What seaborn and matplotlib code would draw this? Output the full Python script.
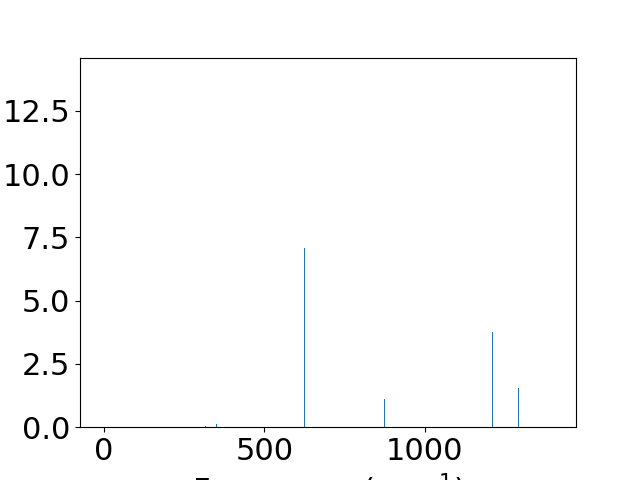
import numpy as np
import pandas as pd
import matplotlib
matplotlib.use("Agg")
import matplotlib.pyplot as plt
import seaborn as sns

frequencies = [316.0, 350.0, 625.4, 875.0, 1212.0, 1293.0]
intensities = [0.04, 0.12, 7.07, 1.11, 3.76, 1.54]

df = pd.DataFrame({"freq": frequencies, "inten": intensities})

plt.rcParams["font.size"] = 22
fig, ax = plt.subplots(figsize=(6.4, 4.8), dpi=100)

min_gap = np.min(np.diff(sorted(frequencies)))
bar_w_units = 4.0
sns.barplot(data=df, x="freq", y="inten", native_scale=True,
            width=bar_w_units / min_gap, color="#1f77b4", saturation=1,
            errorbar=None, linewidth=0, ax=ax)

ax.set_xlim(-74.9, 1472)
ax.set_ylim(0, 14.61)
ax.set_xticks([0, 500, 1000])
ax.set_yticks([0.0, 2.5, 5.0, 7.5, 10.0, 12.5])
ax.set_yticklabels(["0.0", "2.5", "5.0", "7.5", "10.0", "12.5"])
ax.set_xlabel("Frequency (cm$^{-1}$)")
ax.set_ylabel("")
fig.subplots_adjust(left=0.125, right=0.9, bottom=0.11, top=0.88)
fig.savefig("out.png", dpi=100)
